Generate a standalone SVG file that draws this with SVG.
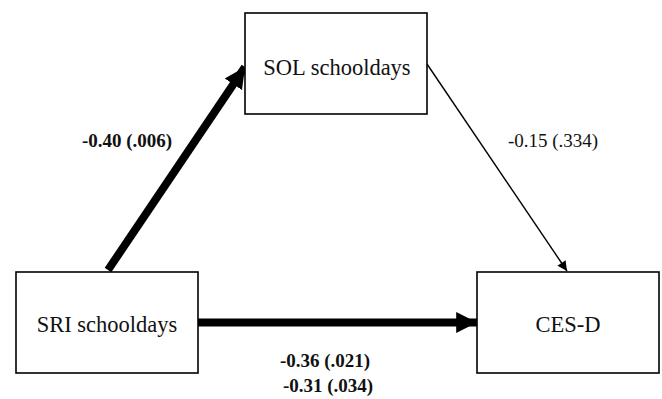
<svg xmlns="http://www.w3.org/2000/svg" width="662" height="399" viewBox="0 0 662 399">
  <style>
    .box { fill: #ffffff; stroke: #000000; stroke-width: 1.6; }
    .node-label { font-family: 'Liberation Serif', Tinos, 'Times New Roman', Times, 'DejaVu Serif', serif; font-size: 22.5px; fill: #111111; text-anchor: middle; }
    .coef { font-family: 'Liberation Serif', Tinos, 'Times New Roman', Times, 'DejaVu Serif', serif; font-size: 19px; fill: #111111; text-anchor: middle; }
    .bold { font-weight: bold; }
  </style>
  <defs>
    <marker id="headThick" viewBox="0 0 10 10" refX="10" refY="5" markerWidth="2.6" markerHeight="2.8" markerUnits="strokeWidth" orient="auto">
      <path d="M0,0 L10,5 L0,10 z" fill="#000"/>
    </marker>
    <marker id="headThin" viewBox="0 0 10 10" refX="10" refY="5" markerWidth="8" markerHeight="7" markerUnits="strokeWidth" orient="auto">
      <path d="M0,0 L10,5 L0,10 z" fill="#000"/>
    </marker>
  </defs>

  <rect width="662" height="399" fill="#ffffff"/>

  <g id="connectors">
    <line x1="108" y1="270" x2="245" y2="67" stroke="#000" stroke-width="8" marker-end="url(#headThick)"/>
    <line x1="198" y1="322.5" x2="477" y2="322.5" stroke="#000" stroke-width="8" marker-end="url(#headThick)"/>
    <line x1="427" y1="64" x2="567" y2="271" stroke="#000" stroke-width="1.4" marker-end="url(#headThin)"/>
  </g>

  <g id="sol">
    <rect class="box" x="245" y="13" width="182" height="101"/>
    <text class="node-label" x="337" y="75" font-family="Liberation Serif, serif">SOL schooldays</text>
  </g>

  <g id="sri">
    <rect class="box" x="16" y="272" width="182" height="101"/>
    <text class="node-label" x="107" y="332" font-family="Liberation Serif, serif">SRI schooldays</text>
  </g>

  <g id="cesd">
    <rect class="box" x="477" y="272" width="182" height="101"/>
    <text class="node-label" x="568" y="332" font-family="Liberation Serif, serif">CES-D</text>
  </g>

  <g id="labels">
    <text class="coef bold" x="127" y="147">-0.40 (.006)</text>
    <text class="coef" x="553" y="147">-0.15 (.334)</text>
    <text class="coef bold" x="325" y="367">-0.36 (.021)</text>
    <text class="coef bold" x="328" y="392">-0.31 (.034)</text>
  </g>
</svg>
